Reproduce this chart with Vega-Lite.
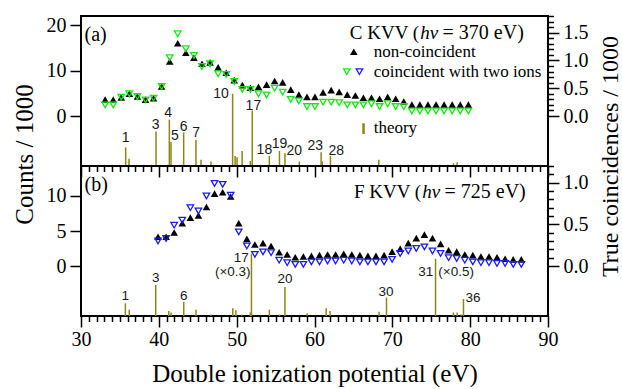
{
  "$schema": "https://vega.github.io/schema/vega-lite/v6.json",
  "background": "white",
  "padding": {"left": 11, "top": 5, "right": 0, "bottom": 0},
  "spacing": 0,
  "bounds": "flush",
  "config": {
    "view": {"stroke": "black", "strokeWidth": 2},
    "axis": {"domain": false, "grid": false, "tickColor": "black", "tickWidth": 1.5, "labelFont": "Liberation Serif", "labelFontSize": 20, "labelColor": "black", "titleFont": "Liberation Serif", "titleFontSize": 25, "titleFontWeight": "normal", "titleColor": "black", "labelOverlap": false, "labelFlush": false, "labelBound": false}
  },
  "datasets": {
    "a_nc": [
      {"x":33.10,"y":3.6},{"x":34.14,"y":3.6},{"x":35.17,"y":4.1},{"x":36.21,"y":4.9},{"x":37.25,"y":4.3},{"x":38.29,"y":3.6},{"x":39.32,"y":3.9},{"x":40.36,"y":6.5},{"x":41.40,"y":12.0},{"x":42.43,"y":16.0},{"x":43.47,"y":13.9},{"x":44.51,"y":12.8},{"x":45.54,"y":11.5},{"x":46.58,"y":11.8},{"x":47.62,"y":10.7},{"x":48.66,"y":9.5},{"x":49.69,"y":7.9},{"x":50.73,"y":6.8},{"x":51.77,"y":6.2},{"x":52.80,"y":6.4},{"x":53.84,"y":6.9},{"x":54.88,"y":7.7},{"x":55.91,"y":7.4},{"x":56.95,"y":5.8},{"x":57.99,"y":4.7},{"x":59.03,"y":4.2},{"x":60.06,"y":4.2},{"x":61.10,"y":5.2},{"x":62.14,"y":5.7},{"x":63.17,"y":5.3},{"x":64.21,"y":4.7},{"x":65.25,"y":4.5},{"x":66.28,"y":4.0},{"x":67.32,"y":4.0},{"x":68.36,"y":3.8},{"x":69.40,"y":4.2},{"x":70.43,"y":3.8},{"x":71.47,"y":3.2},{"x":72.51,"y":2.5},{"x":73.54,"y":2.5},{"x":74.58,"y":2.5},{"x":75.62,"y":2.5},{"x":76.65,"y":2.5},{"x":77.69,"y":2.5},{"x":78.73,"y":2.5},{"x":79.77,"y":2.5}
    ],
    "a_co": [
      {"x":33.10,"y":0.20},{"x":34.14,"y":0.20},{"x":35.17,"y":0.34},{"x":36.21,"y":0.40},{"x":37.25,"y":0.35},{"x":38.29,"y":0.29},{"x":39.32,"y":0.32},{"x":40.36,"y":0.53},{"x":41.40,"y":1.05},{"x":42.43,"y":1.48},{"x":43.47,"y":1.21},{"x":44.51,"y":1.09},{"x":45.54,"y":0.89},{"x":46.58,"y":0.94},{"x":47.62,"y":0.76},{"x":48.66,"y":0.75},{"x":49.69,"y":0.62},{"x":50.73,"y":0.48},{"x":51.77,"y":0.48},{"x":52.80,"y":0.40},{"x":53.84,"y":0.38},{"x":54.88,"y":0.50},{"x":55.91,"y":0.43},{"x":56.95,"y":0.30},{"x":57.99,"y":0.27},{"x":59.03,"y":0.17},{"x":60.06,"y":0.17},{"x":61.10,"y":0.25},{"x":62.14,"y":0.25},{"x":63.17,"y":0.24},{"x":64.21,"y":0.20},{"x":65.25,"y":0.20},{"x":66.28,"y":0.20},{"x":67.32,"y":0.22},{"x":68.36,"y":0.17},{"x":69.40,"y":0.22},{"x":70.43,"y":0.17},{"x":71.47,"y":0.17},{"x":72.51,"y":0.09},{"x":73.54,"y":0.09},{"x":74.58,"y":0.09},{"x":75.62,"y":0.09},{"x":76.65,"y":0.09},{"x":77.69,"y":0.09},{"x":78.73,"y":0.09},{"x":79.77,"y":0.09}
    ],
    "a_theory": [
      {"x":35.74,"y":-6.9},{"x":36.17,"y":-9.4},{"x":39.64,"y":-3.4},{"x":41.35,"y":-0.8},{"x":41.56,"y":-5.7},{"x":43.19,"y":-3.6},{"x":44.77,"y":-5.2},{"x":45.42,"y":-9.6},{"x":46.7,"y":-10.0},{"x":49.48,"y":4.9},{"x":49.8,"y":-8.8},{"x":50.05,"y":-9.1},{"x":50.7,"y":-7.7},{"x":51.75,"y":-9.9},{"x":52.0,"y":1.2},{"x":54.2,"y":-8.8},{"x":55.5,"y":-7.7},{"x":56.2,"y":-8.2},{"x":58.05,"y":-10.0},{"x":60.85,"y":-8.0},{"x":61.0,"y":-10.0},{"x":62.05,"y":-8.8},{"x":68.26,"y":-9.6},{"x":77.85,"y":-10.4},{"x":78.33,"y":-10.2}
    ],
    "a_labels": [
      {"x":35.74,"y":-4.86,"t":"1"},{"x":39.6,"y":-1.9,"t":"3"},{"x":41.2,"y":0.66,"t":"4"},{"x":42.07,"y":-4.5,"t":"5"},{"x":43.2,"y":-2.4,"t":"6"},{"x":44.8,"y":-3.75,"t":"7"},{"x":47.99,"y":4.86,"t":"10"},{"x":52.15,"y":2.27,"t":"17"},{"x":53.56,"y":-7.44,"t":"18"},{"x":55.5,"y":-6.1,"t":"19"},{"x":57.4,"y":-7.66,"t":"20"},{"x":60.1,"y":-6.56,"t":"23"},{"x":62.8,"y":-7.6,"t":"28"}
    ],
    "a_notes": [
      {"x":30.45,"y":17.8,"t":"(a)"}
    ],
    "b_nc": [
      {"x":39.90,"y":4.2},{"x":40.94,"y":4.2},{"x":41.97,"y":4.8},{"x":43.01,"y":6.1},{"x":44.05,"y":6.9},{"x":45.09,"y":7.2},{"x":46.12,"y":8.4},{"x":47.16,"y":10.3},{"x":48.20,"y":10.5},{"x":49.23,"y":9.9},{"x":50.27,"y":6.1},{"x":51.31,"y":3.9},{"x":52.34,"y":3.1},{"x":53.38,"y":3.3},{"x":54.42,"y":2.9},{"x":55.46,"y":2.0},{"x":56.49,"y":1.7},{"x":57.53,"y":1.3},{"x":58.57,"y":1.4},{"x":59.60,"y":1.5},{"x":60.64,"y":1.6},{"x":61.68,"y":1.7},{"x":62.71,"y":1.7},{"x":63.75,"y":1.8},{"x":64.79,"y":1.7},{"x":65.83,"y":1.6},{"x":66.86,"y":1.5},{"x":67.90,"y":1.5},{"x":68.94,"y":1.6},{"x":69.97,"y":2.1},{"x":71.01,"y":2.5},{"x":72.05,"y":3.3},{"x":73.08,"y":4.0},{"x":74.12,"y":4.5},{"x":75.16,"y":4.0},{"x":76.20,"y":3.2},{"x":77.23,"y":2.3},{"x":78.27,"y":2.1},{"x":79.31,"y":1.7},{"x":80.34,"y":1.6},{"x":81.38,"y":1.4},{"x":82.42,"y":1.4},{"x":83.45,"y":1.3},{"x":84.49,"y":1.1},{"x":85.53,"y":1.0},{"x":86.57,"y":1.0}
    ],
    "b_co": [
      {"x":39.90,"y":0.30},{"x":40.94,"y":0.33},{"x":41.97,"y":0.49},{"x":43.01,"y":0.55},{"x":44.05,"y":0.70},{"x":45.09,"y":0.66},{"x":46.12,"y":0.84},{"x":47.16,"y":0.99},{"x":48.20,"y":0.98},{"x":49.23,"y":0.85},{"x":50.27,"y":0.41},{"x":51.31,"y":0.24},{"x":52.34,"y":0.14},{"x":53.38,"y":0.17},{"x":54.42,"y":0.16},{"x":55.46,"y":0.07},{"x":56.49,"y":0.04},{"x":57.53,"y":0.02},{"x":58.57,"y":0.02},{"x":59.60,"y":0.05},{"x":60.64,"y":0.05},{"x":61.68,"y":0.06},{"x":62.71,"y":0.06},{"x":63.75,"y":0.07},{"x":64.79,"y":0.06},{"x":65.83,"y":0.05},{"x":66.86,"y":0.05},{"x":67.90,"y":0.05},{"x":68.94,"y":0.05},{"x":69.97,"y":0.08},{"x":71.01,"y":0.15},{"x":72.05,"y":0.18},{"x":73.08,"y":0.21},{"x":74.12,"y":0.23},{"x":75.16,"y":0.18},{"x":76.20,"y":0.15},{"x":77.23,"y":0.10},{"x":78.27,"y":0.09},{"x":79.31,"y":0.07},{"x":80.34,"y":0.05},{"x":81.38,"y":0.04},{"x":82.42,"y":0.04},{"x":83.45,"y":0.03},{"x":84.49,"y":0.03},{"x":85.53,"y":0.02},{"x":86.57,"y":0.02}
    ],
    "b_theory": [
      {"x":35.7,"y":-5.2},{"x":36.2,"y":-6.1},{"x":39.6,"y":-2.6},{"x":41.27,"y":-6.3},{"x":41.57,"y":-6.5},{"x":43.2,"y":-5.0},{"x":44.78,"y":-6.1},{"x":46.7,"y":-6.8},{"x":49.5,"y":-5.9},{"x":49.9,"y":-6.2},{"x":50.65,"y":-6.8},{"x":51.75,"y":-6.5},{"x":51.9,"y":1.8},{"x":54.2,"y":-6.1},{"x":55.5,"y":-6.8},{"x":56.2,"y":-2.9},{"x":59.05,"y":-6.6},{"x":61.5,"y":-5.9},{"x":62.0,"y":-6.3},{"x":68.3,"y":-6.4},{"x":69.25,"y":-4.4},{"x":75.55,"y":1.1},{"x":77.85,"y":-6.5},{"x":78.33,"y":-6.5},{"x":78.84,"y":-6.8},{"x":79.14,"y":-4.6}
    ],
    "b_labels": [
      {"x":35.7,"y":-4.2,"t":"1"},{"x":39.6,"y":-1.56,"t":"3"},{"x":43.2,"y":-4.16,"t":"6"},{"x":50.6,"y":1.15,"t":"17"},{"x":49.5,"y":-0.75,"t":"(×0.3)"},{"x":56.2,"y":-1.84,"t":"20"},{"x":69.2,"y":-3.6,"t":"30"},{"x":74.3,"y":-0.76,"t":"31"},{"x":78.2,"y":-0.76,"t":"(×0.5)"},{"x":80.35,"y":-4.4,"t":"36"}
    ]
  },
  "vconcat": [
    {
      "width": 467,
      "height": 150,
      "layer": [
        {
          "layer": [
            {
              "data": {"name": "a_theory"},
              "mark": {"type": "rule", "color": "#8f8512", "strokeWidth": 1.5},
              "encoding": {
                "x": {"field": "x", "type": "quantitative", "scale": {"domain": [30, 90], "nice": false, "zero": false},
                  "axis": {"orient": "bottom", "values": [30,40,50,60,70,80,90], "labels": false, "title": null, "labelOverlap": false, "tickSize": 11}},
                "y": {"field": "y", "type": "quantitative", "scale": {"domain": [-11, 22], "nice": false, "zero": false},
                  "axis": {"orient": "left", "values": [0,10,20], "format": "d", "labelOverlap": false, "tickSize": 11, "labelPadding": 4,
                    "title": "Counts / 1000", "titleAngle": 270, "titleX": -57, "titleY": 138, "titleBaseline": "middle"}},
                "y2": {"datum": -11}
              }
            },
            {
              "data": {"name": "a_nc"},
              "mark": {"type": "point", "shape": "triangle-up", "filled": true, "color": "black", "size": 58, "opacity": 1},
              "encoding": {
                "x": {"field": "x", "type": "quantitative", "scale": {"domain": [30, 90], "nice": false, "zero": false}, "axis": {"labelOverlap": false}},
                "y": {"field": "y", "type": "quantitative", "scale": {"domain": [-11, 22], "nice": false, "zero": false}, "axis": {"labelOverlap": false}}
              }
            },
            {
              "data": {"name": "a_labels"},
              "mark": {"type": "text", "font": "Liberation Sans", "fontSize": 14, "color": "#1a1a1a", "align": "center", "baseline": "middle"},
              "encoding": {
                "x": {"field": "x", "type": "quantitative", "scale": {"domain": [30, 90], "nice": false, "zero": false}, "axis": {"labelOverlap": false}},
                "y": {"field": "y", "type": "quantitative", "scale": {"domain": [-11, 22], "nice": false, "zero": false}, "axis": {"labelOverlap": false}},
                "text": {"field": "t"}
              }
            },
            {
              "data": {"name": "a_notes"},
              "mark": {"type": "text", "font": "Liberation Serif", "fontSize": 20, "color": "black", "align": "left", "baseline": "middle"},
              "encoding": {
                "x": {"field": "x", "type": "quantitative", "scale": {"domain": [30, 90], "nice": false, "zero": false}, "axis": {"labelOverlap": false}},
                "y": {"field": "y", "type": "quantitative", "scale": {"domain": [-11, 22], "nice": false, "zero": false}, "axis": {"labelOverlap": false}},
                "text": {"field": "t"}
              }
            },
            {
              "data": {"values": [{"x": 73.45, "y": 18.2, "t": "C KVV ("}]},
              "mark": {"type": "text", "font": "Liberation Serif", "fontSize": 19, "color": "black", "align": "right", "baseline": "middle"},
              "encoding": {
                "x": {"field": "x", "type": "quantitative", "scale": {"domain": [30, 90], "nice": false, "zero": false}, "axis": {"labelOverlap": false}},
                "y": {"field": "y", "type": "quantitative", "scale": {"domain": [-11, 22], "nice": false, "zero": false}, "axis": {"labelOverlap": false}},
                "text": {"field": "t"}
              }
            },
            {
              "data": {"values": [{"x": 73.6, "y": 18.2, "t": "hν"}]},
              "mark": {"type": "text", "font": "Liberation Serif", "fontStyle": "italic", "fontSize": 19, "color": "black", "align": "left", "baseline": "middle"},
              "encoding": {
                "x": {"field": "x", "type": "quantitative", "scale": {"domain": [30, 90], "nice": false, "zero": false}, "axis": {"labelOverlap": false}},
                "y": {"field": "y", "type": "quantitative", "scale": {"domain": [-11, 22], "nice": false, "zero": false}, "axis": {"labelOverlap": false}},
                "text": {"field": "t"}
              }
            },
            {
              "data": {"values": [{"x": 76.45, "y": 18.2, "t": "= 370 eV)"}]},
              "mark": {"type": "text", "font": "Liberation Serif", "fontSize": 20, "color": "black", "align": "left", "baseline": "middle"},
              "encoding": {
                "x": {"field": "x", "type": "quantitative", "scale": {"domain": [30, 90], "nice": false, "zero": false}, "axis": {"labelOverlap": false}},
                "y": {"field": "y", "type": "quantitative", "scale": {"domain": [-11, 22], "nice": false, "zero": false}, "axis": {"labelOverlap": false}},
                "text": {"field": "t"}
              }
            },
            {
              "data": {"values": [{"x": 67.6, "y": 14.15, "t": "non-coincident"}, {"x": 67.6, "y": 9.74, "t": "coincident with two ions"}, {"x": 67.6, "y": -2.7, "t": "theory"}]},
              "mark": {"type": "text", "font": "Liberation Serif", "fontSize": 17, "color": "black", "align": "left", "baseline": "middle"},
              "encoding": {
                "x": {"field": "x", "type": "quantitative", "scale": {"domain": [30, 90], "nice": false, "zero": false}, "axis": {"labelOverlap": false}},
                "y": {"field": "y", "type": "quantitative", "scale": {"domain": [-11, 22], "nice": false, "zero": false}, "axis": {"labelOverlap": false}},
                "text": {"field": "t"}
              }
            },
            {
              "data": {"values": [{"x": 65.05, "y": 14.15}]},
              "mark": {"type": "point", "shape": "triangle-up", "filled": true, "color": "black", "size": 58, "opacity": 1},
              "encoding": {
                "x": {"field": "x", "type": "quantitative", "scale": {"domain": [30, 90], "nice": false, "zero": false}, "axis": {"labelOverlap": false}},
                "y": {"field": "y", "type": "quantitative", "scale": {"domain": [-11, 22], "nice": false, "zero": false}, "axis": {"labelOverlap": false}}
              }
            },
            {
              "data": {"values": [{"x": 64.15, "y": 9.74}]},
              "mark": {"type": "point", "shape": "triangle-down", "filled": false, "color": "#14e614", "strokeWidth": 1.3, "size": 42, "opacity": 1},
              "encoding": {
                "x": {"field": "x", "type": "quantitative", "scale": {"domain": [30, 90], "nice": false, "zero": false}, "axis": {"labelOverlap": false}},
                "y": {"field": "y", "type": "quantitative", "scale": {"domain": [-11, 22], "nice": false, "zero": false}, "axis": {"labelOverlap": false}}
              }
            },
            {
              "data": {"values": [{"x": 65.77, "y": 9.74}]},
              "mark": {"type": "point", "shape": "triangle-down", "filled": false, "color": "#1a1aff", "strokeWidth": 1.3, "size": 42, "opacity": 1},
              "encoding": {
                "x": {"field": "x", "type": "quantitative", "scale": {"domain": [30, 90], "nice": false, "zero": false}, "axis": {"labelOverlap": false}},
                "y": {"field": "y", "type": "quantitative", "scale": {"domain": [-11, 22], "nice": false, "zero": false}, "axis": {"labelOverlap": false}}
              }
            },
            {
              "data": {"values": [{"x": 66.3, "y": -1.6, "y2": -3.96}]},
              "mark": {"type": "rule", "color": "#8f8512", "strokeWidth": 2.5},
              "encoding": {
                "x": {"field": "x", "type": "quantitative", "scale": {"domain": [30, 90], "nice": false, "zero": false}, "axis": {"labelOverlap": false}},
                "y": {"field": "y", "type": "quantitative", "scale": {"domain": [-11, 22], "nice": false, "zero": false}, "axis": {"labelOverlap": false}},
                "y2": {"field": "y2"}
              }
            }
          ]
        },
        {
          "data": {"name": "a_co"},
          "mark": {"type": "point", "shape": "triangle-down", "filled": false, "color": "#14e614", "strokeWidth": 1.3, "size": 42, "opacity": 1},
          "encoding": {
            "x": {"field": "x", "type": "quantitative", "scale": {"domain": [30, 90], "nice": false, "zero": false},
              "axis": {"orient": "bottom", "values": [31,32,33,34,35,36,37,38,39,41,42,43,44,45,46,47,48,49,51,52,53,54,55,56,57,58,59,61,62,63,64,65,66,67,68,69,71,72,73,74,75,76,77,78,79,81,82,83,84,85,86,87,88,89], "labels": false, "title": null, "tickSize": 5.5}},
            "y": {"field": "y", "type": "quantitative", "scale": {"domain": [-0.9, 1.8], "nice": false, "zero": false},
              "axis": {"orient": "right", "values": [0,0.1,0.2,0.3,0.4,0.5,0.6,0.7,0.8,0.9,1,1.1,1.2,1.3,1.4,1.5,1.6,1.7,1.8], "format": ".1f", "labelOverlap": false,
                "labelExpr": "abs(datum.value*2 - round(datum.value*2)) < 0.001 ? datum.label : ''",
                "tickSize": {"condition": {"test": "abs(datum.value*2 - round(datum.value*2)) < 0.001", "value": 11}, "value": 5.5},
                "labelPadding": 4, "title": "True coincidences / 1000", "titleFontSize": 24, "titleAngle": 270, "titleX": 62, "titleY": 140, "titleBaseline": "middle"}}
          }
        }
      ],
      "resolve": {"scale": {"y": "independent"}, "axis": {"x": "independent"}}
    },
    {
      "width": 467,
      "height": 150,
      "layer": [
        {
          "layer": [
            {
              "data": {"name": "b_theory"},
              "mark": {"type": "rule", "color": "#8f8512", "strokeWidth": 1.5},
              "encoding": {
                "x": {"field": "x", "type": "quantitative", "scale": {"domain": [30, 90], "nice": false, "zero": false},
                  "axis": {"orient": "bottom", "values": [30,40,50,60,70,80,90], "format": "d", "labelPadding": 2, "labelOverlap": false, "tickSize": 11,
                    "title": "Double ionization potential (eV)", "titleY": 57, "titleBaseline": "middle"}},
                "y": {"field": "y", "type": "quantitative", "scale": {"domain": [-7, 14.2], "nice": false, "zero": false},
                  "axis": {"orient": "left", "values": [0,5,10], "format": "d", "labelOverlap": false, "tickSize": 11, "labelPadding": 4, "title": null}},
                "y2": {"datum": -7}
              }
            },
            {
              "data": {"name": "b_nc"},
              "mark": {"type": "point", "shape": "triangle-up", "filled": true, "color": "black", "size": 58, "opacity": 1},
              "encoding": {
                "x": {"field": "x", "type": "quantitative", "scale": {"domain": [30, 90], "nice": false, "zero": false}, "axis": {"labelOverlap": false}},
                "y": {"field": "y", "type": "quantitative", "scale": {"domain": [-7, 14.2], "nice": false, "zero": false}, "axis": {"labelOverlap": false}}
              }
            },
            {
              "data": {"name": "b_labels"},
              "mark": {"type": "text", "font": "Liberation Sans", "fontSize": 13.5, "color": "#1a1a1a", "align": "center", "baseline": "middle"},
              "encoding": {
                "x": {"field": "x", "type": "quantitative", "scale": {"domain": [30, 90], "nice": false, "zero": false}, "axis": {"labelOverlap": false}},
                "y": {"field": "y", "type": "quantitative", "scale": {"domain": [-7, 14.2], "nice": false, "zero": false}, "axis": {"labelOverlap": false}},
                "text": {"field": "t"}
              }
            },
            {
              "data": {"values": [{"x": 30.45, "y": 11.5, "t": "(b)"}]},
              "mark": {"type": "text", "font": "Liberation Serif", "fontSize": 20, "color": "black", "align": "left", "baseline": "middle"},
              "encoding": {
                "x": {"field": "x", "type": "quantitative", "scale": {"domain": [30, 90], "nice": false, "zero": false}, "axis": {"labelOverlap": false}},
                "y": {"field": "y", "type": "quantitative", "scale": {"domain": [-7, 14.2], "nice": false, "zero": false}, "axis": {"labelOverlap": false}},
                "text": {"field": "t"}
              }
            },
            {
              "data": {"values": [{"x": 73.7, "y": 10.57, "t": "F KVV ("}]},
              "mark": {"type": "text", "font": "Liberation Serif", "fontSize": 19, "color": "black", "align": "right", "baseline": "middle"},
              "encoding": {
                "x": {"field": "x", "type": "quantitative", "scale": {"domain": [30, 90], "nice": false, "zero": false}, "axis": {"labelOverlap": false}},
                "y": {"field": "y", "type": "quantitative", "scale": {"domain": [-7, 14.2], "nice": false, "zero": false}, "axis": {"labelOverlap": false}},
                "text": {"field": "t"}
              }
            },
            {
              "data": {"values": [{"x": 73.85, "y": 10.57, "t": "hν"}]},
              "mark": {"type": "text", "font": "Liberation Serif", "fontStyle": "italic", "fontSize": 19, "color": "black", "align": "left", "baseline": "middle"},
              "encoding": {
                "x": {"field": "x", "type": "quantitative", "scale": {"domain": [30, 90], "nice": false, "zero": false}, "axis": {"labelOverlap": false}},
                "y": {"field": "y", "type": "quantitative", "scale": {"domain": [-7, 14.2], "nice": false, "zero": false}, "axis": {"labelOverlap": false}},
                "text": {"field": "t"}
              }
            },
            {
              "data": {"values": [{"x": 76.7, "y": 10.57, "t": "= 725 eV)"}]},
              "mark": {"type": "text", "font": "Liberation Serif", "fontSize": 20, "color": "black", "align": "left", "baseline": "middle"},
              "encoding": {
                "x": {"field": "x", "type": "quantitative", "scale": {"domain": [30, 90], "nice": false, "zero": false}, "axis": {"labelOverlap": false}},
                "y": {"field": "y", "type": "quantitative", "scale": {"domain": [-7, 14.2], "nice": false, "zero": false}, "axis": {"labelOverlap": false}},
                "text": {"field": "t"}
              }
            }
          ]
        },
        {
          "data": {"name": "b_co"},
          "mark": {"type": "point", "shape": "triangle-down", "filled": false, "color": "#1a1aff", "strokeWidth": 1.3, "size": 42, "opacity": 1},
          "encoding": {
            "x": {"field": "x", "type": "quantitative", "scale": {"domain": [30, 90], "nice": false, "zero": false},
              "axis": {"orient": "bottom", "values": [31,32,33,34,35,36,37,38,39,41,42,43,44,45,46,47,48,49,51,52,53,54,55,56,57,58,59,61,62,63,64,65,66,67,68,69,71,72,73,74,75,76,77,78,79,81,82,83,84,85,86,87,88,89], "labels": false, "title": null, "tickSize": 5.5}},
            "y": {"field": "y", "type": "quantitative", "scale": {"domain": [-0.6, 1.2], "nice": false, "zero": false},
              "axis": {"orient": "right", "values": [0,0.1,0.2,0.3,0.4,0.5,0.6,0.7,0.8,0.9,1,1.1,1.2], "format": ".1f", "labelOverlap": false,
                "labelExpr": "abs(datum.value*2 - round(datum.value*2)) < 0.001 ? datum.label : ''",
                "tickSize": {"condition": {"test": "abs(datum.value*2 - round(datum.value*2)) < 0.001", "value": 11}, "value": 5.5},
                "labelPadding": 4, "title": null}}
          }
        }
      ],
      "resolve": {"scale": {"y": "independent"}, "axis": {"x": "independent"}}
    }
  ]
}
